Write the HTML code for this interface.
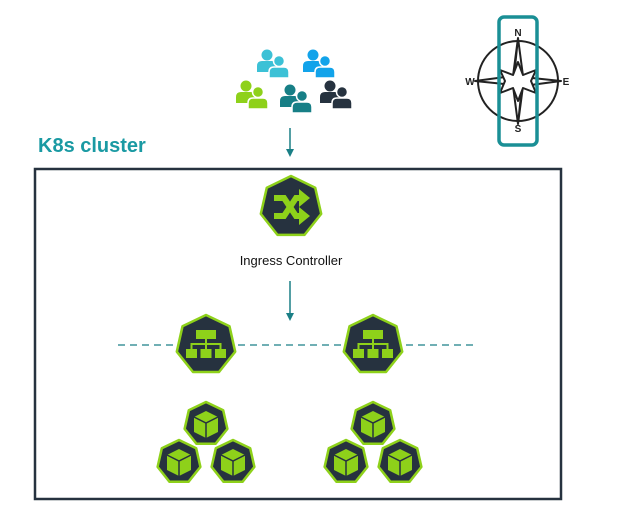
<!DOCTYPE html>
<html><head><meta charset="utf-8"><style>
body{margin:0;background:#fff;width:618px;height:518px;overflow:hidden;font-family:"Liberation Sans",sans-serif}
</style></head><body>
<svg id="s" width="618" height="518" xmlns="http://www.w3.org/2000/svg">
<defs>
<g id="person"><circle cx="0" cy="-7" r="5.5"/><path d="M-10,10 L-10,4 Q-10,-1 -5,-1 L5,-1 Q10,-1 10,4 L10,10 Z"/></g>
<g id="pair"><use href="#person" x="-5" y="-3"/><use href="#person" x="6" y="2" stroke="#fff" stroke-width="1.5"/></g>
</defs>
<text x="38" y="152" font-size="20" font-weight="bold" fill="#1a9aa3" font-family="Liberation Sans, sans-serif">K8s cluster</text>
<rect x="35" y="169" width="526" height="330" fill="none" stroke="#26323f" stroke-width="2.5"/>
<line x1="118" y1="345" x2="474" y2="345" stroke="#1a7f86" stroke-width="1.3" stroke-dasharray="7,5"/>
<line x1="290" y1="128" x2="290" y2="150" stroke="#1a7f86" stroke-width="1.5"/>
<polygon points="286,149 294,149 290,157" fill="#1a7f86"/>
<line x1="290" y1="281" x2="290" y2="314" stroke="#1a7f86" stroke-width="1.5"/>
<polygon points="286,313 294,313 290,321" fill="#1a7f86"/>
<text x="291" y="265" font-size="13" text-anchor="middle" fill="#111">Ingress Controller</text>
<g id="hepts"></g>
<!-- people -->
<g fill="#3cc1d6"><use href="#person" x="267" y="62"/><use href="#person" x="279" y="68" stroke="#fff" stroke-width="1.5"/></g>
<g fill="#12a3ea"><use href="#person" x="313" y="62"/><use href="#person" x="325" y="68" stroke="#fff" stroke-width="1.5"/></g>
<g fill="#8ed11a"><use href="#person" x="246" y="93"/><use href="#person" x="258" y="99" stroke="#fff" stroke-width="1.5"/></g>
<g fill="#177f86"><use href="#person" x="290" y="97"/><use href="#person" x="302" y="103" stroke="#fff" stroke-width="1.5"/></g>
<g fill="#26323f"><use href="#person" x="330" y="93"/><use href="#person" x="342" y="99" stroke="#fff" stroke-width="1.5"/></g>
<!-- compass -->
<g stroke="#222" stroke-width="2" fill="#fff" stroke-linejoin="round">
<circle cx="518" cy="81" r="40"/>
<path d="M518,38 L523,76 L518,124 L513,86 Z M518,38 L513,76 M518,124 L523,86"/>
<path d="M475,81 L513,76 L561,81 L523,86 Z"/>
<path d="M518,62 L523,75 L536,70 L531,81 L536,93 L523,88 L518,101 L513,88 L500,93 L505,81 L500,70 L513,75 Z"/>
</g>
<rect x="499" y="17" width="38" height="128" rx="5" fill="none" stroke="#1a8f95" stroke-width="3.5"/>
<g font-size="10" font-weight="bold" fill="#222" text-anchor="middle">
<text x="518" y="36">N</text><text x="518" y="132">S</text><text x="470" y="85">W</text><text x="566" y="85">E</text></g>
</svg>
<script>
function hept(cx,cy,r){let p=[];for(let i=0;i<7;i++){let a=-Math.PI/2+i*2*Math.PI/7;p.push((cx+r*Math.cos(a)).toFixed(1)+","+(cy+r*Math.sin(a)).toFixed(1));}return p.join(" ");}
let g=document.getElementById('hepts'),h='';
function node(cx,cy,r,icon){h+=`<polygon points="${hept(cx,cy,r)}" fill="#26323f" stroke="#8ed11a" stroke-width="2.5" stroke-linejoin="round"/>`;h+=icon(cx,cy,r);}
const G='#8ed11a';
function shuffle(x,y){return `<g stroke="${G}" stroke-width="6" fill="none"><path d="M${x-17},${y-9} L${x-7},${y-9} L${x+5},${y+9} L${x+10},${y+9}"/><path d="M${x-17},${y+9} L${x-7},${y+9} L${x+5},${y-9} L${x+10},${y-9}"/></g><path d="M${x+8},${y-18} L${x+19},${y-9} L${x+8},${y}Z M${x+8},${y} L${x+19},${y+9} L${x+8},${y+18}Z" fill="${G}"/>`;}
function tree(x,y){return `<g fill="${G}"><rect x="${x-10}" y="${y-15}" width="20" height="9"/><rect x="${x-20}" y="${y+4}" width="11" height="9"/><rect x="${x-5.5}" y="${y+4}" width="11" height="9"/><rect x="${x+9}" y="${y+4}" width="11" height="9"/></g><g stroke="${G}" stroke-width="2" fill="none"><path d="M${x},${y-6} V${y+4} M${x-14.5},${y+4} V${y-1} H${x+14.5} V${y+4}"/></g>`;}
function cube(x,y){return `<path d="M${x},${y-13} L${x+12},${y-7} L${x+12},${y+8} L${x},${y+14} L${x-12},${y+8} L${x-12},${y-7}Z" fill="${G}"/><path d="M${x-12},${y-7} L${x},${y-1} L${x+12},${y-7} M${x},${y-1} V${y+14}" stroke="#26323f" stroke-width="1.5" fill="none"/>`;}
node(291,207,31,(x,y)=>shuffle(x,y));
[206,373].forEach(x=>{node(x,345,30,tree);node(x,424,22,cube);node(x-27,462,22,cube);node(x+27,462,22,cube);});
g.innerHTML=h;
</script>
</body></html>
